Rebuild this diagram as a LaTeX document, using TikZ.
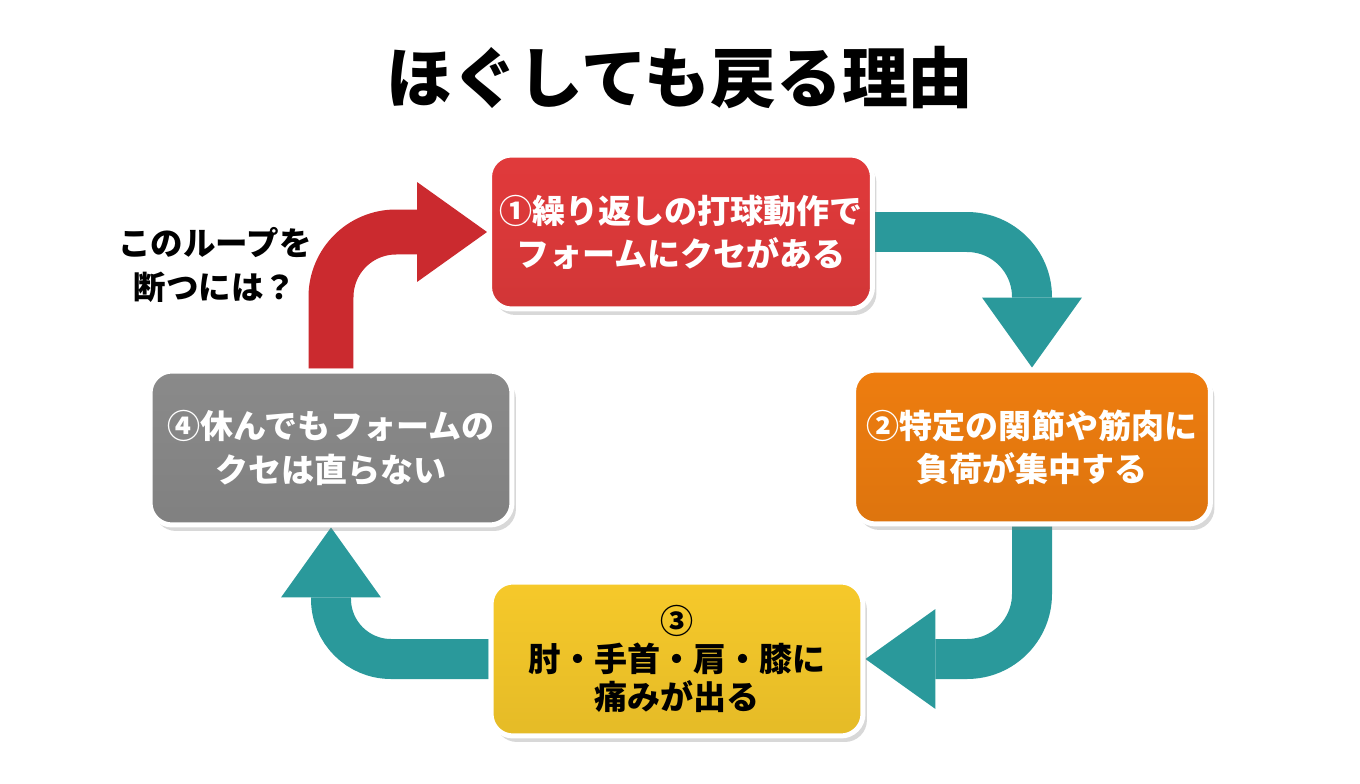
\documentclass[tikz,border=0pt]{standalone}
\usepackage{fontspec}
\setmainfont{Noto Sans CJK JP}
\usepackage{tikz}
\usetikzlibrary{arrows.meta,backgrounds,shadows}
\definecolor{boxred}{HTML}{E13A3B}
\definecolor{boxorange}{HTML}{EE7D0F}
\definecolor{boxyellow}{HTML}{F6C92A}
\definecolor{boxgray}{HTML}{8A8A8A}
\definecolor{loopteal}{HTML}{2A999B}
\definecolor{loopred}{HTML}{CB2A2F}

\begin{document}
\begin{tikzpicture}[x=0.02cm, y=-0.02cm,
  stepbox/.style={draw=white, line width=0.1cm, rounded corners=0.44cm,
    top color=#1, middle color=#1, bottom color=#1!93!black,
    minimum height=3.08cm, align=center, text=white,
    font=\bfseries\fontsize{18.8}{24.5}\selectfont,
    drop shadow={shadow xshift=0.08cm, shadow yshift=-0.12cm, opacity=0.3}},
  flowarrow/.style={line width=0.8cm, rounded corners=1.3cm,
    -{Triangle[length=1.4cm, width=2cm, line width=0pt]}}]
  \useasboundingbox (0,0) rectangle (1360,784);
  \node[font=\bfseries\fontsize{37.5}{40}\selectfont] (title) at (680,78) {ほぐしても戻る理由};
  \node[stepbox=boxred, minimum width=7.66cm] (box1) at (681,232)
    {①繰り返しの打球動作で\\フォームにクセがある};
  \node[stepbox=boxorange, minimum width=7.14cm] (box2) at (1032,447)
    {②特定の関節や筋肉に\\負荷が集中する};
  \node[stepbox=boxyellow, text=black, minimum width=7.44cm,
    font=\bfseries\fontsize{18.8}{21.5}\selectfont] (box3) at (677,659)
    {③\\肘・手首・肩・膝に\\痛みが出る};
  \node[stepbox=boxgray, minimum width=7.24cm] (box4) at (331,448)
    {④休んでもフォームの\\クセは直らない};
  \node[align=center, font=\bfseries\fontsize{18.5}{25.5}\selectfont] (ask) at (215,265)
    {このループを\\断つには？};
  \begin{scope}[on background layer]
    \fill[white] (0,0) rectangle (1360,784);
    \draw[flowarrow, loopteal] (box1.east) -| (box2.north);
    \draw[flowarrow, loopteal] (box2.south) |- (box3.east);
    \draw[flowarrow, loopteal, rounded corners=1.2cm] (box3.west) -| (box4.south);
    \draw[flowarrow, loopred, line width=0.9cm] (box4.north) |- (box1.west);
  \end{scope}
\end{tikzpicture}
\end{document}
